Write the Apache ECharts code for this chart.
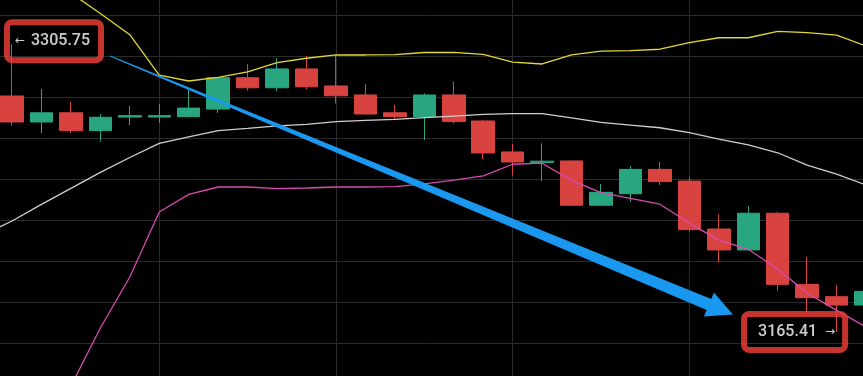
<!DOCTYPE html>
<html>
<head>
<meta charset="utf-8">
<script src="https://cdn.jsdelivr.net/npm/echarts@6/dist/echarts.min.js"></script>
<style>
  html, body { margin: 0; padding: 0; background: #000; }
  #chart { width: 863px; height: 376px; }
</style>
</head>
<body>
<div id="chart"></div>
<script>
// slot 0 is the bar just before the left edge (only the bands reach into view)
var slots = ['0', '1', '2', '3', '4', '5', '6', '7', '8', '9', '10', '11', '12', '13', '14', '15',
  '16', '17', '18', '19', '20', '21', '22', '23', '24', '25', '26', '27', '28', '29', '30'];

var opens = ['-', 3280.5, 3267.8, 3272.3, 3263.6, 3270.2, 3270.2, 3270.4, 3274.1, 3289.4, 3284.5,
  3293.7, 3285.4, 3281.0, 3272.3, 3270.4, 3281.0, 3268.3, 3253.2, 3248.0, 3248.8,
  3227.2, 3232.8, 3244.7, 3239.0, 3215.6, 3205.4, 3223.3, 3188.6, 3182.6, 3178.5];
var closes = ['-', 3267.8, 3272.3, 3263.6, 3270.1, 3270.9, 3270.9, 3274.6, 3289.4, 3284.5, 3293.7,
  3285.0, 3280.6, 3271.7, 3270.4, 3281.0, 3268.0, 3252.7, 3248.3, 3248.7, 3227.2,
  3233.5, 3244.7, 3238.7, 3215.3, 3205.4, 3223.3, 3188.6, 3182.1, 3178.5, 3185.2];
var lows = ['-', 3265.9, 3262.4, 3262.4, 3258.2, 3266.3, 3267.3, 3270.3, 3272.3, 3283.1, 3282.9,
  3283.8, 3276.9, 3271.4, 3269.1, 3259.0, 3267.2, 3249.6, 3241.8, 3239.0, 3227.0,
  3227.0, 3228.8, 3237.1, 3214.3, 3199.2, 3205.2, 3185.4, 3175.1, 3165.41, 3177.0];
var highs = ['-', 3305.75, 3283.9, 3277.6, 3271.7, 3275.6, 3276.6, 3283.4, 3289.6, 3296.1, 3298.9,
  3300.0, 3300.5, 3286.3, 3276.1, 3281.8, 3287.5, 3268.8, 3257.1, 3257.4, 3249.0,
  3237.6, 3246.3, 3248.3, 3240.8, 3222.7, 3226.8, 3224.0, 3201.8, 3188.3, 3187.0];

// bollinger bands
var upper = [3347.0, 3342.0, 3336.1, 3330.7, 3320.7, 3310.4, 3290.7, 3287.8, 3289.6, 3292.3, 3296.8,
  3298.9, 3300.5, 3300.5, 3300.7, 3301.7, 3301.8, 3300.8, 3297.0, 3296.1, 3300.5,
  3302.4, 3302.6, 3303.3, 3306.5, 3308.9, 3308.9, 3312.0, 3311.4, 3310.2, 3304.9];
var middle = [3212.7, 3219.5, 3227.6, 3235.4, 3243.2, 3250.5, 3257.4, 3260.6, 3263.6, 3264.7, 3265.9,
  3266.6, 3268.0, 3268.6, 3269.1, 3269.9, 3270.7, 3271.5, 3271.9, 3271.9, 3269.8,
  3267.6, 3266.3, 3265.0, 3262.6, 3259.4, 3256.6, 3252.8, 3246.8, 3242.4, 3237.1];
var lower = [3078.0, 3093.2, 3112.7, 3139.0, 3167.3, 3192.2, 3223.9, 3232.5, 3236.1, 3236.1, 3235.3,
  3235.6, 3236.1, 3236.1, 3236.3, 3237.6, 3239.5, 3241.5, 3247.2, 3247.7, 3239.3,
  3233.4, 3230.5, 3227.7, 3218.5, 3210.2, 3205.7, 3196.1, 3184.4, 3175.9, 3167.8];

// trend arrow: [slot, price] of tail and tip
var arrowFrom = [4.33, 3300.0];
var arrowTo = [25.48, 3173.9];

// price tags
var tagSlots = [1, 29];
var tagPrices = [3305.75, 3165.41];

var chart = echarts.init(document.getElementById('chart'));

var candles = opens.map(function (o, i) {
  return [o, closes[i], lows[i], highs[i]];
});

var tagStyle = {
  show: true,
  position: 'inside',
  color: '#fff',
  borderColor: '#f5403a',
  borderWidth: 3,
  borderRadius: 5,
  backgroundColor: 'transparent',
  rich: {
    l: { fontFamily: 'DejaVu Sans', fontSize: 12, color: '#fff', padding: [0, 6, 0, 0] },
    r: { fontFamily: 'DejaVu Sans', fontSize: 12, color: '#fff', padding: [0, 0, 0, 8] },
    b: { fontFamily: 'Roboto', fontSize: 16, fontWeight: 500, lineHeight: 18, color: '#fff' }
  }
};

chart.setOption({
  backgroundColor: '#000',
  animation: false,
  grid: { left: -17.45, top: -26, width: 883.5, height: 410, outerBoundsMode: 'none' },
  xAxis: [{
    type: 'category',
    data: slots,
    boundaryGap: false,
    axisLine: { show: false },
    axisTick: { show: false },
    axisLabel: { show: false },
    splitLine: {
      show: true,
      interval: function (index) { return index > 0 && index % 6 === 0; },
      lineStyle: { color: '#2a2a2a', width: 1 }
    }
  }, {
    type: 'value',
    min: 0,
    max: 30,
    show: false
  }],
  yAxis: {
    type: 'value',
    min: 3140,
    max: 3340,
    interval: 20,
    axisLine: { show: false },
    axisTick: { show: false },
    axisLabel: { show: false },
    splitLine: { lineStyle: { color: '#2a2a2a', width: 1 } }
  },
  series: [{
    type: 'candlestick',
    data: candles,
    barWidth: 23,
    clip: false,
    itemStyle: {
      color: '#27a680',
      color0: '#d84340',
      borderColor: '#27a680',
      borderColor0: '#d84340',
      borderWidth: 1
    }
  }, {
    type: 'line',
    data: upper,
    showSymbol: false,
    z: 3,
    lineStyle: { color: '#e3d734', width: 1.3 }
  }, {
    type: 'line',
    data: middle,
    showSymbol: false,
    z: 3,
    lineStyle: { color: '#cfcfcf', width: 1.3 }
  }, {
    type: 'line',
    data: lower,
    showSymbol: false,
    z: 3,
    lineStyle: { color: '#d84bb0', width: 1.3 }
  }, {
    type: 'custom',
    xAxisIndex: 1,
    z: 4,
    data: [[arrowFrom[0], arrowFrom[1], arrowTo[0], arrowTo[1]]],
    encode: { x: [0, 2], y: [1, 3] },
    renderItem: function (params, api) {
      var p0 = api.coord([api.value(0), api.value(1)]);
      var p1 = api.coord([api.value(2), api.value(3)]);
      var dx = p1[0] - p0[0], dy = p1[1] - p0[1];
      var len = Math.sqrt(dx * dx + dy * dy);
      var ux = dx / len, uy = dy / len;
      var nx = -uy, ny = ux;
      var headLen = 26, headHalf = 13, w0 = 0.5, w1 = 6;
      var bx = p1[0] - ux * headLen, by = p1[1] - uy * headLen;
      var pts = [
        [p0[0] + nx * w0, p0[1] + ny * w0],
        [bx + nx * w1, by + ny * w1],
        [bx + nx * headHalf, by + ny * headHalf],
        p1,
        [bx - nx * headHalf, by - ny * headHalf],
        [bx - nx * w1, by - ny * w1],
        [p0[0] - nx * w0, p0[1] - ny * w0]
      ];
      return { type: 'polygon', shape: { points: pts }, style: { fill: '#1a98f0' } };
    }
  }, {
    type: 'scatter',
    z: 5,
    symbolSize: 1,
    itemStyle: { color: 'transparent' },
    data: [[tagSlots[0], tagPrices[0]]],
    label: Object.assign({}, tagStyle, {
      offset: [42, -3],
      padding: [10, 11, 10, 8],
      formatter: function (p) { return '{l|←}{b|' + p.value[1].toFixed(2) + '}'; }
    })
  }, {
    type: 'scatter',
    z: 5,
    symbolSize: 1,
    itemStyle: { color: 'transparent' },
    data: [[tagSlots[1], tagPrices[1]]],
    label: Object.assign({}, tagStyle, {
      offset: [-42, 0],
      padding: [9, 10, 9, 14],
      formatter: function (p) { return '{b|' + p.value[1].toFixed(2) + '}{r|→}'; }
    })
  }]
});
</script>
</body>
</html>
